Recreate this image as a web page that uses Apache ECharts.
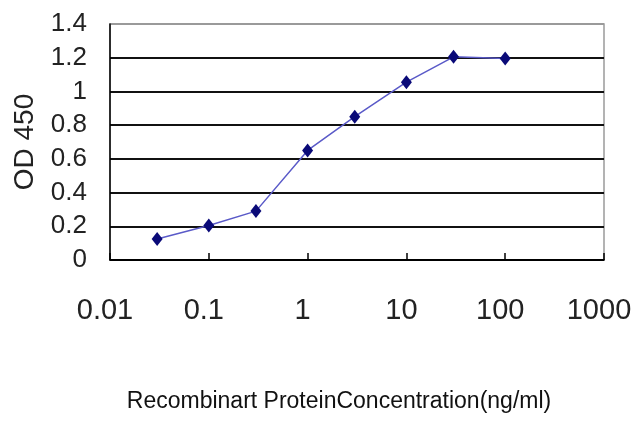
<!DOCTYPE html>
<html><head><meta charset="utf-8">
<script src="https://cdn.jsdelivr.net/npm/echarts@6/dist/echarts.min.js"></script>
<style>html,body{margin:0;padding:0;background:#fff}#c{width:640px;height:427px}</style>
</head><body><div id="c"></div>
<script>
var concentrations = [0.03, 0.1, 0.3, 1, 3, 10, 30, 100];
var odValues = [0.125, 0.205, 0.29, 0.65, 0.85, 1.055, 1.205, 1.195];
var xTickLabels = ['0.01', '0.1', '1', '10', '100', '1000'];
var yTickLabels = ['0', '0.2', '0.4', '0.6', '0.8', '1', '1.2', '1.4'];
var xTitle = 'Recombinart ProteinConcentration(ng/ml)';
var yTitle = 'OD 450';

var sans = '"Liberation Sans", Arial, sans-serif';
var chart = echarts.init(document.getElementById('c'), null, {renderer: 'canvas'});
chart.setOption({
  animation: false,
  backgroundColor: '#fff',
  grid: {left: 110, right: 36, top: 24, bottom: 167, show: true, borderColor: '#9a9a9a', borderWidth: 1.5,
         containLabel: false, outerBoundsMode: 'none'},
  xAxis: {
    type: 'log', logBase: 10, min: 0.01, max: 1000,
    name: xTitle, nameLocation: 'middle', nameGap: 130,
    nameTextStyle: {fontFamily: sans, fontSize: 23, color: '#111', padding: [0, 36, 0, 0]},
    axisLine: {show: true, lineStyle: {color: '#000', width: 1.5}},
    axisTick: {show: true, inside: true, length: 7, lineStyle: {color: '#000', width: 1.5}},
    splitLine: {show: false},
    minorTick: {show: false},
    axisLabel: {
      fontFamily: sans, fontSize: 29, color: '#222', margin: 36, padding: [0, 10, 0, 0],
      formatter: function (v) { return xTickLabels[Math.round(Math.log10(v)) + 2]; }
    }
  },
  yAxis: {
    type: 'value', min: 0, max: 1.4, interval: 0.2,
    name: yTitle, nameLocation: 'middle', nameGap: 71, nameRotate: 90,
    nameTextStyle: {fontFamily: sans, fontSize: 28, color: '#222'},
    axisLine: {show: true, lineStyle: {color: '#000', width: 1.5}},
    axisTick: {show: false},
    splitLine: {show: true, lineStyle: {color: ['#000', '#111', '#111', '#111', '#111', '#111', '#111', '#9a9a9a'], width: 2}},
    axisLabel: {
      fontFamily: sans, fontSize: 26, color: '#222', margin: 23,
      formatter: function (v) { return yTickLabels[Math.round(v / 0.2)]; }
    }
  },
  series: [{
    type: 'line',
    data: concentrations.map(function (c, i) { return [c, odValues[i]]; }),
    lineStyle: {color: '#5a5ac8', width: 1.5},
    symbol: 'diamond', symbolSize: [11, 14],
    itemStyle: {color: '#0a0a78'}
  }]
});
</script></body></html>
